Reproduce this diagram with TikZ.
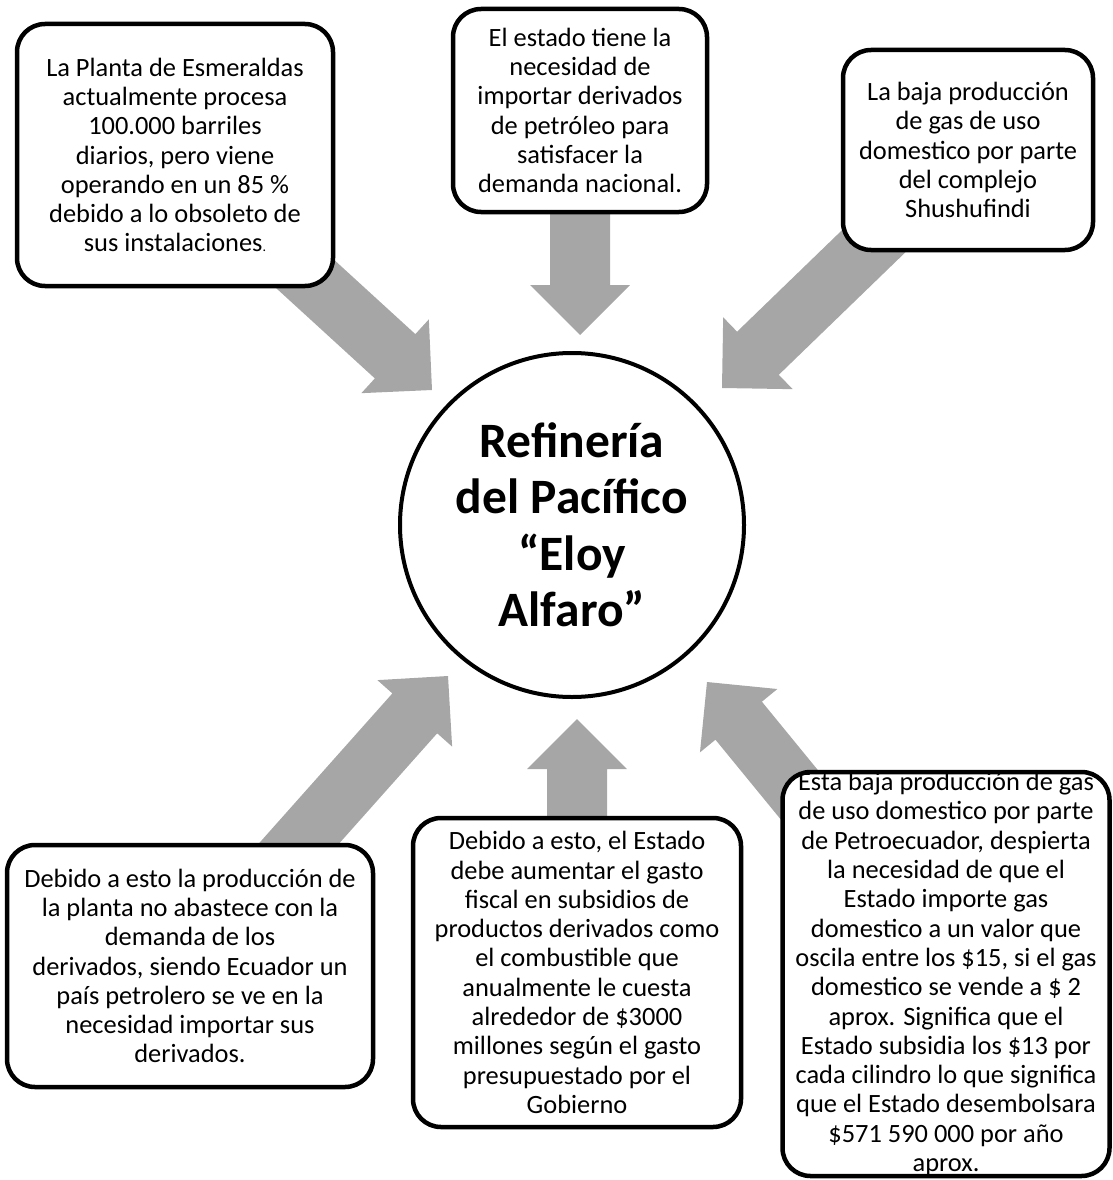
\documentclass[tikz,border=0pt]{standalone}
\usepackage{fontspec}
\setmainfont{Carlito}
\usetikzlibrary{calc}
\definecolor{arrowgray}{RGB}{166,166,166}
\pgfdeclarelayer{bg}
\pgfsetlayers{bg,main}
\tikzset{
  box/.style={draw=black, line width=4.5pt, rounded corners=28pt, fill=white,
    align=center, font=\fontsize{26.4}{29.3}\selectfont, inner sep=6pt},
  hub/.style={circle, draw=black, line width=4pt, fill=white, minimum size=344pt,
    align=center, font=\fontsize{49.5}{56.5}\selectfont\bfseries, inner sep=0pt},
  blockarrow/.style={fill=arrowgray}
}
\newcommand{\bigarrow}[2]{%
  \coordinate (ah) at ($(#2)!50pt!(#1)$);
  \fill[blockarrow] ($(#1)!30pt!90:(#2)$) -- ($(ah)!30pt!90:(#2)$) -- ($(ah)!50pt!90:(#2)$) -- (#2)
    -- ($(ah)!50pt!-90:(#2)$) -- ($(ah)!30pt!-90:(#2)$) -- ($(#1)!30pt!-90:(#2)$) -- cycle;}
\begin{document}
\begin{tikzpicture}[x=1pt,y=-1pt]
\useasboundingbox (0,0) rectangle (1113,1180);

\node[box, minimum width=316pt, minimum height=262pt] (b1) at (175,155)
  {La Planta de Esmeraldas\\actualmente procesa\\100.000 barriles\\diarios, pero viene\\operando en un 85 \%\\debido a lo obsoleto de\\sus instalaciones{\fontsize{14}{14}\selectfont.}};
\node[box, minimum width=254pt, minimum height=203pt] (b2) at (580,110.5)
  {El estado tiene la\\necesidad de\\importar derivados\\de petróleo para\\satisfacer la\\demanda nacional.};
\node[box, minimum width=250pt, minimum height=200pt] (b3) at (968,150)
  {La baja producción\\de gas de uso\\domestico por parte\\del complejo\\Shushufindi};
\node[box, minimum width=366pt, minimum height=242pt] (b4) at (190,966)
  {Debido a esto la producción de\\la planta no abastece con la\\demanda de los\\derivados, siendo Ecuador un\\país petrolero se ve en la\\necesidad importar sus\\derivados.};
\node[box, minimum width=328pt, minimum height=309pt] (b5) at (577,972.5)
  {Debido a esto, el Estado\\debe aumentar el gasto\\fiscal en subsidios de\\productos derivados como\\el combustible que\\anualmente le cuesta\\alrededor de \$3000\\millones según el gasto\\presupuestado por el\\Gobierno};
\node[box, minimum width=327pt, minimum height=404pt, inner ysep=0pt] (b6) at (946,974)
  {Esta baja producción de gas\\de uso domestico por parte\\de Petroecuador, despierta\\la necesidad de que el\\Estado importe gas\\domestico a un valor que\\oscila entre los \$15, si el gas\\domestico se vende a \$ 2\\aprox. Significa que el\\Estado subsidia los \$13 por\\cada cilindro lo que significa\\que el Estado desembolsara\\\$571 590 000 por año\\aprox.};

\node[hub] (hub) at (572,525) {Refinería\\del Pacífico\\“Eloy\\Alfaro”};

\coordinate (t1) at (432,390);
\coordinate (t2) at (580,335);
\coordinate (t3) at (722,388);
\coordinate (t4) at (448,676);
\coordinate (t5) at (577,719);
\coordinate (t6) at (707,682);

\begin{pgfonlayer}{bg}
\bigarrow{b1.center}{t1}
\bigarrow{b2.center}{t2}
\bigarrow{b3.center}{t3}
\bigarrow{b4.center}{t4}
\bigarrow{b5.center}{t5}
\bigarrow{b6.center}{t6}
\end{pgfonlayer}
\end{tikzpicture}
\end{document}
